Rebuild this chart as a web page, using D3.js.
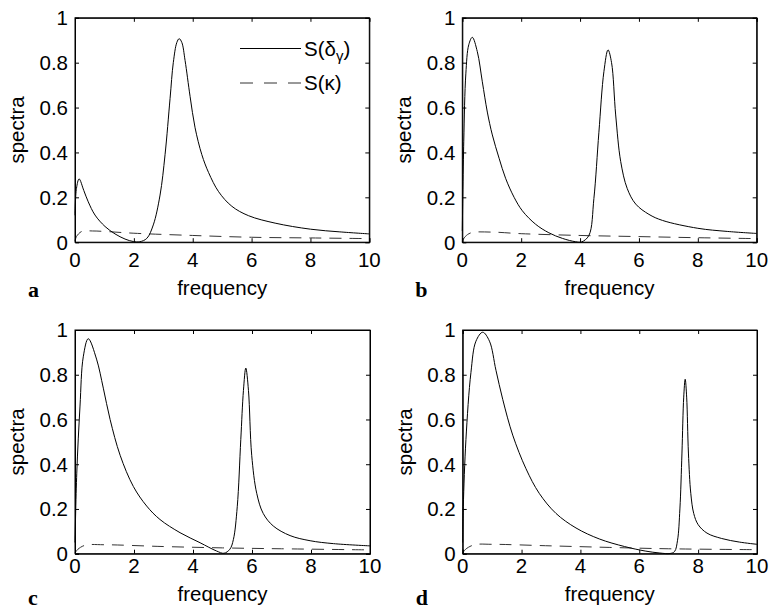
<!DOCTYPE html>
<html>
<head>
<meta charset="utf-8">
<script src="https://cdn.jsdelivr.net/npm/d3@7"></script>
<style>
  body { margin: 0; background: #fff; }
</style>
</head>
<body>
<div id="chart"></div>
<script>
// valori: [frequenza, spettro]
const xTicks = [0, 2, 4, 6, 8, 10];
const yTicks = [0, 0.2, 0.4, 0.6, 0.8, 1];
const legendLabels = ["S(δ", "S(κ)"];

const solidA = [[0,0.12],[0.05,0.24],[0.14,0.282],[0.3,0.23],[0.45,0.18],[0.68,0.121],[1.02,0.07],[1.36,0.037],[1.7,0.014],[1.98,0.003],[2.2,0.002],[2.44,0.017],[2.66,0.077],[2.89,0.21],[3.06,0.39],[3.23,0.64],[3.34,0.8],[3.46,0.89],[3.54,0.907],[3.63,0.89],[3.74,0.81],[3.91,0.65],[4.08,0.51],[4.31,0.39],[4.54,0.31],[4.88,0.225],[5.33,0.16],[5.9,0.118],[6.8,0.085],[8,0.058],[9,0.046],[10,0.037]];
const dashA = [[0,0.005],[0.05,0.025],[0.23,0.048],[0.6,0.05],[1,0.048],[2,0.04],[4,0.03],[6,0.022],[8,0.019],[10,0.016]];

const solidB = [[0,0.05],[0.05,0.45],[0.12,0.75],[0.22,0.88],[0.34,0.913],[0.51,0.849],[0.68,0.715],[0.85,0.58],[1.02,0.478],[1.25,0.374],[1.47,0.285],[1.76,0.2],[2.04,0.14],[2.49,0.08],[2.94,0.042],[3.4,0.017],[3.85,0.002],[4.05,0.001],[4.3,0.03],[4.47,0.195],[4.64,0.49],[4.81,0.76],[4.95,0.857],[5.07,0.8],[5.21,0.567],[5.38,0.36],[5.6,0.24],[5.89,0.17],[6.34,0.124],[6.8,0.097],[8,0.062],[9,0.048],[10,0.039]];
const dashB = [[0,0.005],[0.1,0.025],[0.3,0.042],[1,0.045],[2,0.038],[4,0.03],[6,0.025],[8,0.02],[10,0.016]];

const solidC = [[0,0.05],[0.06,0.36],[0.17,0.66],[0.28,0.88],[0.45,0.961],[0.73,0.87],[0.96,0.74],[1.19,0.6],[1.53,0.44],[1.98,0.3],[2.43,0.213],[2.88,0.153],[3.56,0.094],[4.24,0.049],[4.8,0.012],[5.05,0.002],[5.25,0.02],[5.37,0.064],[5.5,0.21],[5.62,0.51],[5.71,0.73],[5.79,0.83],[5.88,0.73],[5.99,0.44],[6.16,0.27],[6.38,0.18],[6.72,0.124],[7.29,0.081],[7.97,0.058],[8.76,0.045],[10,0.035]];
const dashC = [[0,0.003],[0.1,0.02],[0.35,0.038],[1,0.04],[3,0.032],[5,0.026],[7,0.022],[10,0.017]];

const solidD = [[0,0.05],[0.02,0.21],[0.11,0.51],[0.28,0.81],[0.45,0.95],[0.68,0.99],[0.91,0.95],[1.13,0.82],[1.36,0.69],[1.7,0.53],[2.15,0.38],[2.6,0.27],[3.17,0.18],[3.85,0.115],[4.64,0.066],[5.5,0.032],[6.2,0.012],[6.7,0.003],[7.05,0.001],[7.2,0.01],[7.3,0.06],[7.38,0.2],[7.45,0.45],[7.51,0.7],[7.56,0.78],[7.61,0.7],[7.67,0.45],[7.75,0.27],[7.85,0.18],[8,0.13],[8.3,0.092],[8.8,0.068],[9.4,0.052],[10,0.042]];
const dashD = [[0,0.003],[0.1,0.02],[0.4,0.04],[1,0.042],[3,0.035],[5,0.028],[7,0.022],[10,0.018]];

// Dimensioni
var width = 772;
var height = 613;

var svg = d3.select("#chart").append("svg")
  .attr("width", width)
  .attr("height", height);

// pannelli: posizione del riquadro del grafico
var panels = [
  { letter: "a", left: 75,  top: 17.8, right: 369.3, bottom: 242.2, tickLabelY: 267, xLabelY: 295, letterY: 297, solid: solidA, dash: dashA, legend: true },
  { letter: "b", left: 462.3, top: 17.8, right: 756.7, bottom: 242.2, tickLabelY: 267, xLabelY: 295, letterY: 297, solid: solidB, dash: dashB },
  { letter: "c", left: 75,  top: 330, right: 370, bottom: 553.7, tickLabelY: 573, xLabelY: 601, letterY: 605, solid: solidC, dash: dashC },
  { letter: "d", left: 462.7, top: 330, right: 757, bottom: 553.7, tickLabelY: 573, xLabelY: 601, letterY: 605, solid: solidD, dash: dashD }
];

var sans = "'Liberation Sans', Arial, Helvetica, sans-serif";
var serif = "'Liberation Serif', 'Times New Roman', serif";
var fontSize = 20.5;
var tickLen = 4;

panels.forEach(function (p) {
  var x = d3.scaleLinear().domain([0, 10]).range([p.left, p.right]);
  var y = d3.scaleLinear().domain([0, 1]).range([p.bottom, p.top]);
  var g = svg.append("g").style("font-family", sans);

  var line = d3.line()
    .x(d => x(d[0]))
    .y(d => y(d[1]))
    .curve(d3.curveCatmullRom.alpha(0.5));

  // curve
  g.append("path")
    .datum(p.dash)
    .attr("d", line)
    .attr("fill", "none")
    .attr("stroke", "#333")
    .attr("stroke-width", 1)
    .attr("stroke-dasharray", "12,8");

  g.append("path")
    .datum(p.solid)
    .attr("d", line)
    .attr("fill", "none")
    .attr("stroke", "#000")
    .attr("stroke-width", 1);

  // assi (tick verso l'interno su tutti i lati)
  g.append("g")
    .attr("transform", `translate(0,${p.bottom})`)
    .call(d3.axisBottom(x).tickValues(xTicks).tickSize(-tickLen).tickFormat(""));
  g.append("g")
    .attr("transform", `translate(0,${p.top})`)
    .call(d3.axisTop(x).tickValues(xTicks).tickSize(-tickLen).tickFormat(""));
  g.append("g")
    .attr("transform", `translate(${p.left},0)`)
    .call(d3.axisLeft(y).tickValues(yTicks).tickSize(-tickLen).tickFormat(""));
  g.append("g")
    .attr("transform", `translate(${p.right},0)`)
    .call(d3.axisRight(y).tickValues(yTicks).tickSize(-tickLen).tickFormat(""));
  g.selectAll(".domain").attr("stroke", "#000").attr("stroke-width", 1);
  g.selectAll(".tick line").attr("stroke", "#000");

  g.append("rect")
    .attr("x", p.left).attr("y", p.top)
    .attr("width", p.right - p.left).attr("height", p.bottom - p.top)
    .attr("fill", "none").attr("stroke", "#000").attr("stroke-width", 1);

  // etichette dei tick
  g.selectAll(".xl").data(xTicks).enter().append("text")
    .attr("x", d => x(d))
    .attr("y", p.tickLabelY)
    .attr("text-anchor", "middle")
    .attr("font-size", fontSize)
    .text(d => d);

  g.selectAll(".yl").data(yTicks).enter().append("text")
    .attr("x", p.left - 7)
    .attr("y", d => y(d))
    .attr("dy", "0.36em")
    .attr("text-anchor", "end")
    .attr("font-size", fontSize)
    .text(d => d);

  g.append("text")
    .attr("x", (p.left + p.right) / 2)
    .attr("y", p.xLabelY)
    .attr("text-anchor", "middle")
    .attr("font-size", fontSize)
    .text("frequency");

  g.append("text")
    .attr("transform", `translate(${p.left - 51},${(p.top + p.bottom) / 2}) rotate(-90)`)
    .attr("text-anchor", "middle")
    .attr("font-size", fontSize)
    .text("spectra");

  g.append("text")
    .attr("x", p.left - 47)
    .attr("y", p.letterY)
    .style("font-family", serif)
    .attr("font-weight", "bold")
    .attr("font-size", 22)
    .text(p.letter);

  if (p.legend) {
    var lx0 = 240, lx1 = 301;
    var ly = [48.5, 83];
    g.append("line").attr("x1", lx0).attr("x2", lx1).attr("y1", ly[0]).attr("y2", ly[0])
      .attr("stroke", "#000").attr("stroke-width", 1);
    g.append("line").attr("x1", lx0).attr("x2", lx1).attr("y1", ly[1]).attr("y2", ly[1])
      .attr("stroke", "#333").attr("stroke-width", 1).attr("stroke-dasharray", "13,11");

    var t1 = g.append("text").attr("x", lx1 + 3).attr("y", ly[0] + 7).attr("font-size", fontSize);
    t1.append("tspan").text(legendLabels[0]);
    t1.append("tspan").attr("font-size", 15).attr("dy", 5).text("γ");
    t1.append("tspan").attr("dy", -5).text(")");

    g.append("text").attr("x", lx1 + 3).attr("y", ly[1] + 7).attr("font-size", fontSize)
      .text(legendLabels[1]);
  }
});
</script>
</body>
</html>
